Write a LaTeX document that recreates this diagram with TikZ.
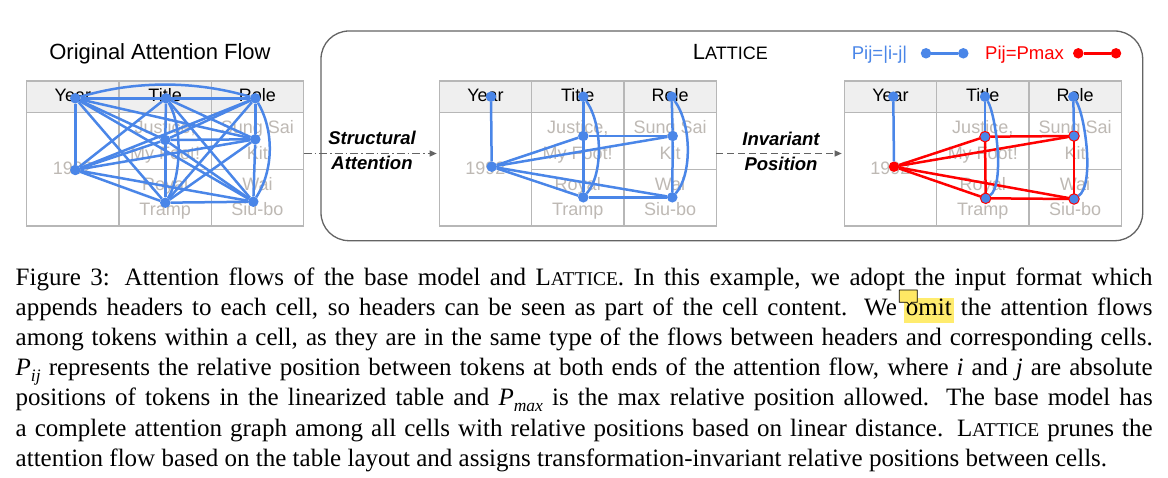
\documentclass[tikz,border=0pt]{standalone}
\usepackage{fontspec}
\setmainfont{Liberation Serif}
\newfontfamily\sansfnt{Liberation Sans}
\usetikzlibrary{arrows.meta}
\definecolor{fblue}{RGB}{74,134,232}
\definecolor{fred}{RGB}{255,0,0}
\definecolor{gridgray}{RGB}{183,183,183}
\definecolor{hdrfill}{RGB}{239,239,239}
\definecolor{cellgray}{RGB}{190,185,180}
\definecolor{boxgray}{RGB}{100,100,100}
\definecolor{arrowgray}{RGB}{100,100,100}
\definecolor{hl}{RGB}{255,236,110}
\definecolor{iconyellow}{RGB}{255,232,100}
\newcommand\latsc{L{\fontsize{19.5}{20}\selectfont ATTICE}}
\newcommand\mysub[1]{\raisebox{-5.5pt}{\fontsize{17.5}{18}\selectfont\textit{#1}}}
\newcommand\hlword[1]{\makebox[0pt][l]{\hspace{-1.8pt}\textcolor{hl}{\rule[-7.3pt]{49.4pt}{25pt}}}#1}
\newcommand\tablegrid[2]{%
  \fill[hdrfill] (#2,81) rectangle (#2+277,112.3);
  \draw[gridline] (#2,112.3) -- (#2+277,112.3);
  \draw[gridline] (#2+92.3,169.3) -- (#2+277,169.3);
  \draw[gridline] (#2+92.3,81) -- (#2+92.3,226);
  \draw[gridline] (#2+184.6,81) -- (#2+184.6,226);
  \node[tablebox] (#1) at (#2+138.5,153.5) {};
  \node[hdrtext] (#1-h1) at (#2+46.15,102) {Year};
  \node[hdrtext] (#1-h2) at (#2+138.45,102) {Title};
  \node[hdrtext] (#1-h3) at (#2+230.75,102) {Role};
  \node[celltext] (#1-c0) at (#2+46.15,175) {1992};
  \node[celltext] (#1-c1) at (#2+138.45,133.5) {Justice,};
  \node[celltext] (#1-c2) at (#2+138.45,159.5) {My Foot!};
  \node[celltext] (#1-c3) at (#2+230.75,133.5) {Sung Sai};
  \node[celltext] (#1-c4) at (#2+230.75,159.5) {Kit};
  \node[celltext] (#1-c5) at (#2+138.45,190.5) {Royal};
  \node[celltext] (#1-c6) at (#2+138.45,216) {Tramp};
  \node[celltext] (#1-c7) at (#2+230.75,190.5) {Wai};
  \node[celltext] (#1-c8) at (#2+230.75,216) {Siu-bo};
}
\begin{document}
\begin{tikzpicture}[x=1pt,y=-1pt,
  gridline/.style={draw=gridgray,line width=1.3pt},
  tablebox/.style={draw=gridgray,line width=1.3pt,minimum width=277pt,minimum height=145pt,inner sep=0pt,outer sep=0pt},
  hdrtext/.style={anchor=base,inner sep=0pt,font=\sansfnt\fontsize{18}{20}\selectfont,text=black},
  celltext/.style={hdrtext,text=cellgray},
  dot/.style={circle,fill=fblue,minimum size=10.5pt,inner sep=0pt,outer sep=0pt},
  rdot/.style={dot,draw=fred,line width=1pt},
  edge/.style={draw=fblue,line width=2.5pt},
  redge/.style={draw=fred,line width=2.5pt},
  sanslabel/.style={anchor=base west,inner sep=0pt,font=\sansfnt\fontsize{22}{24}\selectfont},
  legendtext/.style={anchor=base west,inner sep=0pt,font=\sansfnt\fontsize{18.5}{20}\selectfont},
  arrowlabel/.style={anchor=base,inner sep=0pt,font=\sansfnt\bfseries\itshape\fontsize{18.5}{20}\selectfont},
  flowarrow/.style={draw=arrowgray,line width=1.2pt,-{Triangle[length=7pt,width=6pt]},shorten >=2.6pt},
  capline/.style={anchor=base west,inner sep=0pt,font=\fontsize{25}{30}\selectfont},
]
\fill[white] (0,0) rectangle (1168,478);
\useasboundingbox (0,0) rectangle (1168,478);

% outer LATTICE box
\node[draw=boxgray,line width=1.3pt,rounded corners=28pt,minimum width=821.7pt,minimum height=209.7pt,inner sep=0pt] (lattice) at (731.85,135.85) {};

% titles
\node[sanslabel,anchor=base] (ttl1) at (160,59.3) {Original Attention Flow};
\node[sanslabel] (ttl2) at (692.7,59.3) {L{\fontsize{18}{20}\selectfont ATTICE}};

% legend
\node[legendtext,text=fblue] (lgt1) at (851.7,59.3) {Pij=|i-j|};
\node[dot] (lg1a) at (926,53.3) {};
\node[dot] (lg1b) at (963.3,53.3) {};
\draw[edge] (lg1a) -- (lg1b);
\node[legendtext,text=fred] (lgt2) at (985,59.3) {Pij=Pmax};
\node[dot,fill=fred] (lg2a) at (1078.3,53.3) {};
\node[dot,fill=fred] (lg2b) at (1116,53.3) {};
\draw[redge] (lg2a) -- (lg2b);

% tables
\tablegrid{ta}{26.7}
\tablegrid{tb}{439.3}
\tablegrid{tc}{844.3}

% ---- table 1 dots
\node[dot] (a-Y) at (75.3,98.3) {};
\node[dot] (a-T) at (166,98.3) {};
\node[dot] (a-R) at (255.3,98.3) {};
\node[dot] (a-J) at (165.3,140) {};
\node[dot] (a-S) at (255.3,139.3) {};
\node[dot] (a-N) at (75.3,170) {};
\node[dot] (a-M) at (165.3,202.7) {};
\node[dot] (a-W) at (253.3,201.7) {};
\foreach \u/\v in {Y/T,Y/N,Y/J,Y/S,Y/M,Y/W,T/R,T/N,T/J,T/S,T/W,R/N,R/J,R/S,R/M,N/J,N/S,N/M,N/W,J/S,J/M,J/W,S/M,S/W,M/W}
  \draw[edge] (a-\u) -- (a-\v);
\draw[edge] (a-Y) .. controls (135,80.5) and (195,80.5) .. (a-R);
\draw[edge] (a-T) .. controls (182,125) and (182,175) .. (a-M);
\draw[edge] (a-R) .. controls (274,130) and (274,170) .. (a-W);

% ---- table 2 dots
\node[dot] (b-Y) at (491,96.7) {};
\node[dot] (b-T) at (583.3,96.7) {};
\node[dot] (b-R) at (671.7,96.7) {};
\node[dot] (b-J) at (583.3,136) {};
\node[dot] (b-S) at (672.7,136) {};
\node[dot] (b-N) at (491.7,166.7) {};
\node[dot] (b-M) at (583.3,197.3) {};
\node[dot] (b-W) at (672.3,197.3) {};
\foreach \u/\v in {Y/N,T/J,J/M,R/S,S/W,N/J,N/S,N/M,N/W,J/S,M/W}
  \draw[edge] (b-\u) -- (b-\v);
\draw[edge] (b-T) .. controls (603,125) and (603,175) .. (b-M);
\draw[edge] (b-R) .. controls (692,125) and (692,175) .. (b-W);

% ---- table 3 dots
\node[dot] (c-Y) at (893.3,96.7) {};
\node[dot] (c-T) at (985,96.7) {};
\node[dot] (c-R) at (1073.3,96.7) {};
\node[rdot] (c-J) at (985,136.7) {};
\node[rdot] (c-S) at (1074,136) {};
\node[dot,fill=fred] (c-N) at (894,166.7) {};
\node[rdot] (c-M) at (985.7,198.3) {};
\node[rdot] (c-W) at (1074,199) {};
\foreach \u/\v in {N/J,N/S,N/M,N/W,J/S,M/W,J/M,S/W}
  \draw[redge] (c-\u) -- (c-\v);
\foreach \u/\v in {Y/N,T/J,R/S}
  \draw[edge] (c-\u) -- (c-\v);
\draw[edge] (c-T) .. controls (996,115) and (1005,185) .. (c-M);
\draw[edge] (c-R) .. controls (1085,115) and (1095,185) .. (c-W);

% ---- arrows between tables
\draw[flowarrow,dash pattern=on 8pt off 3pt on 1.5pt off 3pt] (ta) -- (tb);
\node[arrowlabel] (sa1) at (372,145) {Structural};
\node[arrowlabel] (sa2) at (372,170) {Attention};
\draw[flowarrow,dash pattern=on 7pt off 4pt] (tb) -- (tc);
\node[arrowlabel] (ip1) at (781,146) {Invariant};
\node[arrowlabel] (ip2) at (781,171) {Position};

% ---- caption
\node[capline] (cap1) at (15.5,286) {\hbox to 1137pt{Figure 3: Attention flows of the base model and \latsc. In this example, we adopt the input format which}};
\node[capline] (cap2) at (15.5,316) {\hbox to 1137pt{appends headers to each cell, so headers can be seen as part of the cell content. We \hlword{omit} the attention flows}};
\node[capline] (cap3) at (15.5,346) {\hbox to 1137pt{among tokens within a cell, as they are in the same type of the flows between headers and corresponding cells.}};
\node[capline] (cap4) at (15.5,376) {\hbox to 1137pt{\textit{P}\mysub{ij} represents the relative position between tokens at both ends of the attention flow, where \textit{i} and \textit{j} are absolute}};
\node[capline] (cap5) at (15.5,406) {\hbox to 1137pt{positions of tokens in the linearized table and \textit{P}\mysub{max} is the max relative position allowed. The base model has}};
\node[capline] (cap6) at (15.5,436) {\hbox to 1137pt{a complete attention graph among all cells with relative positions based on linear distance. \latsc{} prunes the}};
\node[capline] (cap7) at (15.5,466) {attention flow based on the table layout and assigns transformation-invariant relative positions between cells.};

% comment icon
\filldraw[fill=iconyellow,draw=black,line width=0.8pt] (899.3,290) -- (917.3,290) -- (917.3,302.3) -- (911.5,302.3) -- (909.3,305) -- (907,302.3) -- (899.3,302.3) -- cycle;
\end{tikzpicture}
\end{document}
